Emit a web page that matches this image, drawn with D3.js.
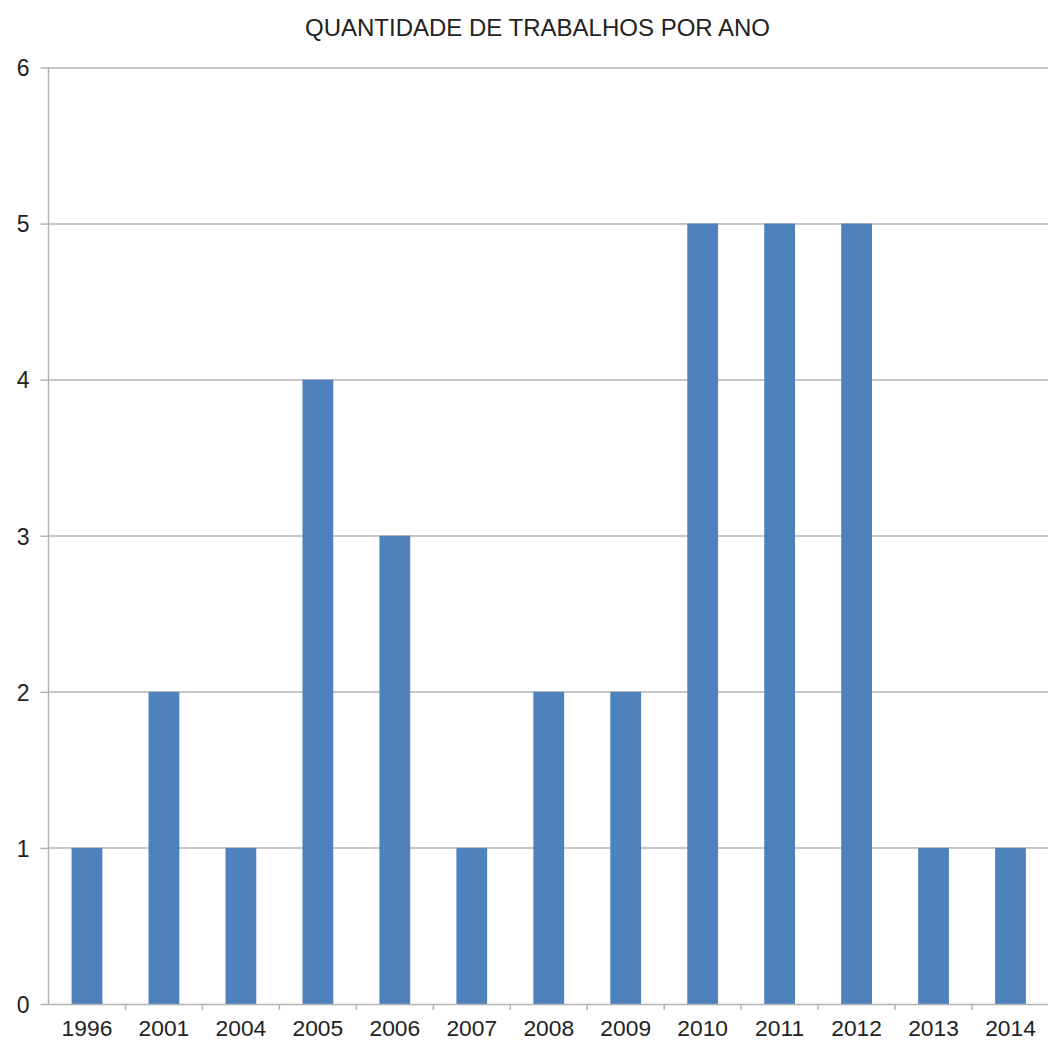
<!DOCTYPE html>
<html>
<head>
<meta charset="utf-8">
<script src="https://cdn.jsdelivr.net/npm/d3@7"></script>
<style>
  html, body { margin: 0; padding: 0; background: #fff; }
  svg { display: block; font-family: "Liberation Sans", Arial, sans-serif; }
</style>
</head>
<body>
<svg id="chart" width="1048" height="1047"></svg>
<script>
// Publications per year
const years = ["1996", "2001", "2004", "2005", "2006", "2007", "2008", "2009", "2010", "2011", "2012", "2013", "2014"];
const counts = [1, 2, 1, 4, 3, 1, 2, 2, 5, 5, 5, 1, 1];
const yTicks = [0, 1, 2, 3, 4, 5, 6];
const title = "QUANTIDADE DE TRABALHOS POR ANO";

const W = 1048, H = 1047;
const margin = { top: 67.5, right: -1, bottom: 43, left: 48.5 };
const innerW = W - margin.left - margin.right;
const innerH = H - margin.top - margin.bottom;

const svg = d3.select("#chart");
const g = svg.append("g").attr("transform", `translate(${margin.left},${margin.top})`);

const x = d3.scaleBand().domain(years).range([0, innerW]).paddingInner(0.6).paddingOuter(0.3);
const xBand = d3.scaleBand().domain(years).range([0, innerW]);
const y = d3.scaleLinear().domain([0, 6]).range([innerH, 0]);

const gridColor = "#b3b3b3";

// horizontal gridlines
g.append("g")
  .selectAll("line")
  .data(yTicks.filter(d => d > 0))
  .join("line")
  .attr("x1", 0).attr("x2", innerW)
  .attr("y1", d => Math.round(y(d)) + 0.5).attr("y2", d => Math.round(y(d)) + 0.5)
  .attr("stroke", gridColor).attr("stroke-width", 1.5);

// bars
g.append("g")
  .selectAll("rect")
  .data(years.map((yr, i) => ({ yr, v: counts[i] })))
  .join("rect")
  .attr("x", d => x(d.yr))
  .attr("width", x.bandwidth())
  .attr("y", d => y(d.v))
  .attr("height", d => innerH - y(d.v))
  .attr("fill", "#4f81bd");

// y axis
const yAxis = g.append("g")
  .call(d3.axisLeft(y).tickValues(yTicks).tickSize(8).tickPadding(11).tickFormat(d3.format("d")));
yAxis.select(".domain").attr("stroke", gridColor).attr("stroke-width", 1.5).attr("d", `M0,${innerH}V0`);
yAxis.selectAll(".tick line").attr("stroke", gridColor).attr("stroke-width", 1.5);
yAxis.selectAll(".tick text").attr("font-size", 23).attr("fill", "#222").attr("dy", "0.36em");

// x axis: ticks sit at category boundaries
const xAxis = g.append("g").attr("transform", `translate(0,${innerH})`);
xAxis.append("line")
  .attr("x1", 0).attr("x2", innerW).attr("y1", 0.5).attr("y2", 0.5)
  .attr("stroke", gridColor).attr("stroke-width", 1.5);
xAxis.selectAll(".bound")
  .data(years.slice(1))
  .join("line")
  .attr("class", "bound")
  .attr("x1", d => xBand(d)).attr("x2", d => xBand(d))
  .attr("y1", 0).attr("y2", 6)
  .attr("stroke", gridColor).attr("stroke-width", 1.5);
xAxis.selectAll(".lbl")
  .data(years)
  .join("text")
  .attr("class", "lbl")
  .attr("x", d => xBand(d) + xBand.bandwidth() / 2)
  .attr("y", 31.5)
  .attr("text-anchor", "middle")
  .attr("font-size", 22.8)
  .attr("fill", "#222")
  .text(d => d);

// title
svg.append("text")
  .attr("x", 537.5)
  .attr("y", 36)
  .attr("text-anchor", "middle")
  .attr("font-size", 24)
  .attr("fill", "#222")
  .text(title);
</script>
</body>
</html>
